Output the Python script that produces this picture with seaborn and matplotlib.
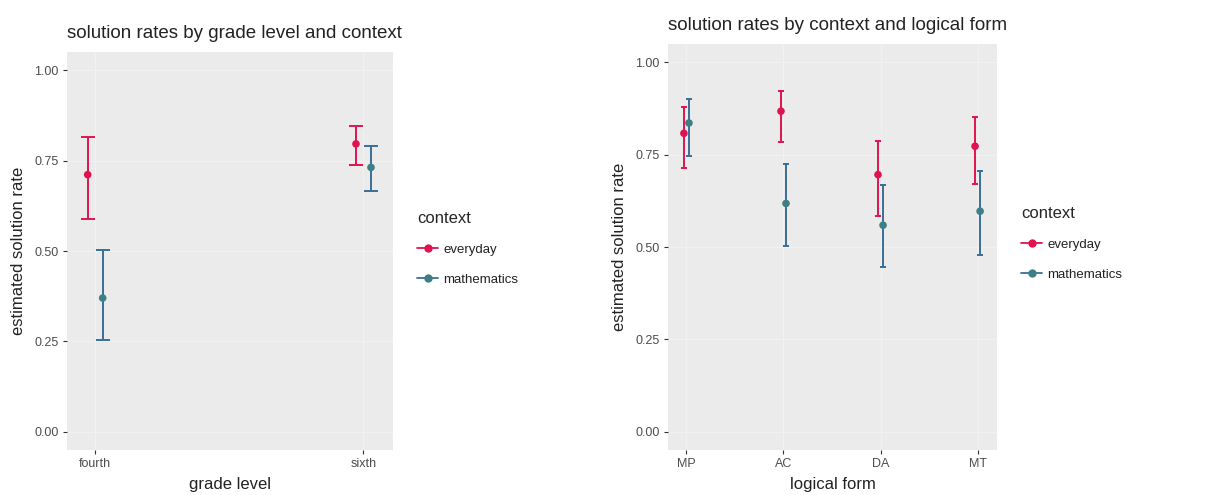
import numpy as np
import pandas as pd
import matplotlib
matplotlib.use("Agg")
import matplotlib.pyplot as plt
from matplotlib.lines import Line2D
import seaborn as sns

# ---------------- data ----------------
contexts = ["everyday", "mathematics"]

grades = ["fourth", "sixth"]
grade_everyday = [0.711, 0.796]
grade_everyday_lo = [0.588, 0.738]
grade_everyday_hi = [0.814, 0.845]
grade_math = [0.370, 0.731]
grade_math_lo = [0.254, 0.666]
grade_math_hi = [0.504, 0.789]

forms = ["MP", "AC", "DA", "MT"]
form_everyday = [0.808, 0.868, 0.696, 0.773]
form_everyday_lo = [0.713, 0.785, 0.584, 0.672]
form_everyday_hi = [0.878, 0.922, 0.787, 0.851]
form_math = [0.836, 0.618, 0.559, 0.597]
form_math_lo = [0.746, 0.502, 0.446, 0.477]
form_math_hi = [0.900, 0.726, 0.669, 0.705]

y_ticks = [0.00, 0.25, 0.50, 0.75, 1.00]

# ---------------- style ----------------
sns.set_theme(style="darkgrid")
plt.rcParams["font.family"] = ["Liberation Sans", "DejaVu Sans"]
plt.rcParams["axes.facecolor"] = "#EBEBEB"
plt.rcParams["grid.color"] = "#F1F1F1"

point_colors = {"everyday": "#E0134F", "mathematics": "#3D7F84"}
bar_colors = {"everyday": "#E0134F", "mathematics": "#3A6E98"}

fig = plt.figure(figsize=(12.07, 4.95), dpi=100)
ax1 = fig.add_axes([67 / 1207, 1 - 450 / 495, (393 - 67) / 1207, (450 - 52) / 495])
ax2 = fig.add_axes([668 / 1207, 1 - 450 / 495, (997 - 668) / 1207, (450 - 44) / 495])


def make_df(cats, ev, ev_lo, ev_hi, ma, ma_lo, ma_hi):
    rows = []
    for i, c in enumerate(cats):
        rows.append(dict(cat=c, idx=i, context="everyday", rate=ev[i], lo=ev_lo[i], hi=ev_hi[i]))
        rows.append(dict(cat=c, idx=i, context="mathematics", rate=ma[i], lo=ma_lo[i], hi=ma_hi[i]))
    return pd.DataFrame(rows)


def draw(ax, df, cats, dodge, capsize, xlim, title, xlabel):
    df = df.copy()
    df["x"] = df["idx"] + np.where(df["context"] == "everyday", -dodge, dodge)
    for ctx in contexts:
        sub = df[df["context"] == ctx]
        ax.errorbar(sub["x"], sub["rate"],
                    yerr=[sub["rate"] - sub["lo"], sub["hi"] - sub["rate"]],
                    fmt="none", ecolor=bar_colors[ctx], elinewidth=1.4,
                    capsize=capsize, capthick=1.4, zorder=2)
    sns.scatterplot(data=df, x="x", y="rate", hue="context", palette=point_colors,
                    hue_order=contexts, s=30, edgecolor="none", legend=False,
                    ax=ax, zorder=3)
    ax.set_xlim(*xlim)
    ax.set_ylim(-0.05, 1.05)
    ax.set_xticks(range(len(cats)))
    ax.set_xticklabels(cats)
    ax.set_yticks(y_ticks)
    ax.set_yticklabels([f"{v:.2f}" for v in y_ticks])
    ax.grid(True, linewidth=0.9)
    ax.tick_params(axis="both", which="both", length=3, width=0.8, color="#333333",
                   labelsize=9, labelcolor="#4D4D4D", pad=3, bottom=True, left=True)
    for s in ax.spines.values():
        s.set_visible(False)
    ax.set_xlabel(xlabel, fontsize=12, color="#222222", labelpad=5)
    ax.set_ylabel("estimated solution rate", fontsize=12, color="#222222", labelpad=6)
    ax.set_title(title, fontsize=13.5, color="#222222", loc="left", pad=10)


df1 = make_df(grades, grade_everyday, grade_everyday_lo, grade_everyday_hi,
              grade_math, grade_math_lo, grade_math_hi)
df2 = make_df(forms, form_everyday, form_everyday_lo, form_everyday_hi,
              form_math, form_math_lo, form_math_hi)

draw(ax1, df1, grades, 0.028, 5, (-0.105, 1.11),
     "solution rates by grade level and context", "grade level")
draw(ax2, df2, forms, 0.026, 2, (-0.19, 3.2),
     "solution rates by context and logical form", "logical form")

handles = [Line2D([0], [0], color=bar_colors[c], marker="o", markersize=5,
                  markerfacecolor=point_colors[c], markeredgecolor=point_colors[c],
                  linewidth=1.3, label=c) for c in contexts]

for ax, xa, ya in [(ax1, 417 / 1207, 1 - 211 / 495), (ax2, 1021 / 1207, 1 - 206 / 495)]:
    leg = fig.legend(handles=handles, title="context", loc="upper left",
                     bbox_to_anchor=(xa, ya), frameon=False, fontsize=9.5,
                     title_fontsize=12, handlelength=1.6, handletextpad=0.4,
                     labelspacing=1.35, borderaxespad=0, borderpad=0)
    leg._legend_box.align = "left"
    for t in leg.get_texts():
        t.set_color("#222222")

fig.savefig("out.png", dpi=100, facecolor="white")
